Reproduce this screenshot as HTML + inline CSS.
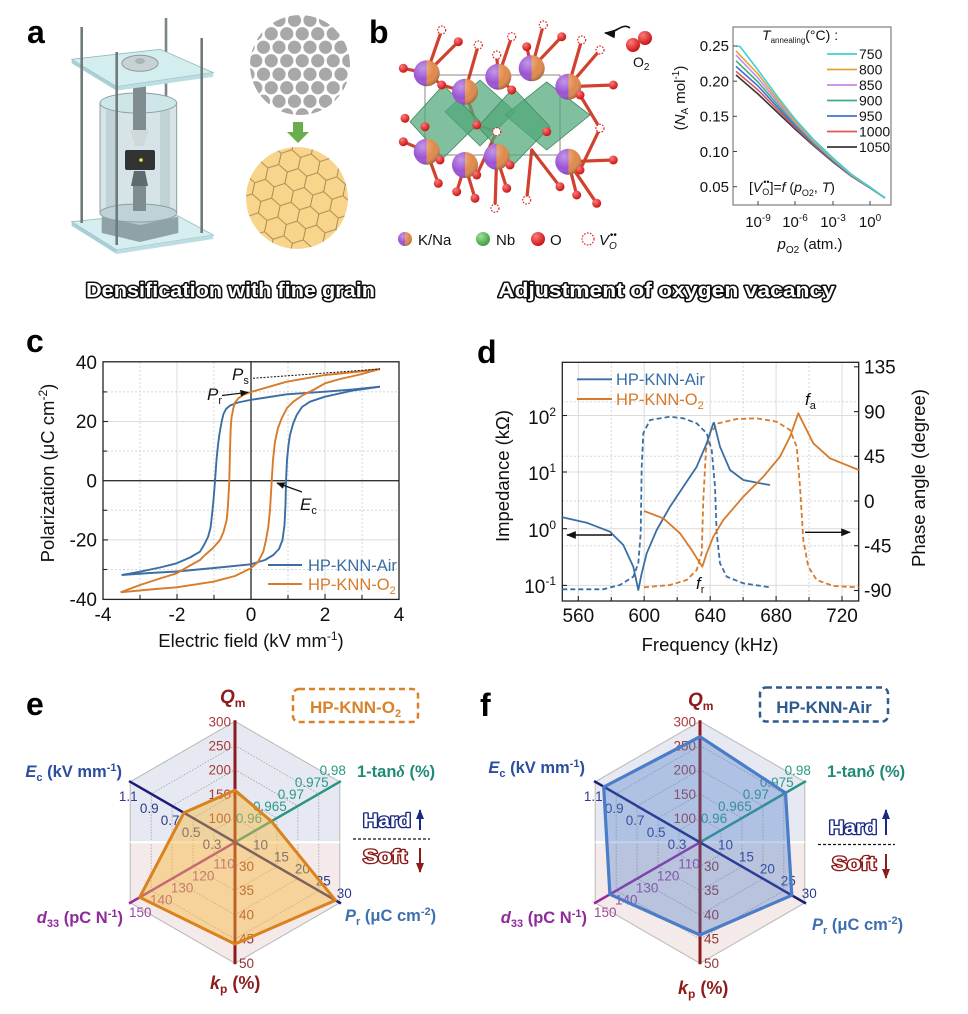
<!DOCTYPE html>
<html><head><meta charset="utf-8"><style>
html,body{margin:0;padding:0;background:#fff;}
svg{display:block;}
text{font-family:"Liberation Sans",Arial,sans-serif;}
</style></head><body>
<svg width="968" height="1014" viewBox="0 0 968 1014" xmlns="http://www.w3.org/2000/svg">
<defs>
<linearGradient id="kna" x1="0" x2="1" y1="0" y2="0"><stop offset="0.5" stop-color="#9a52d4"/><stop offset="0.5" stop-color="#e0894a"/></linearGradient>
<radialGradient id="shade" cx="0.35" cy="0.3" r="0.75"><stop offset="0" stop-color="#fff" stop-opacity="0.4"/><stop offset="0.6" stop-color="#fff" stop-opacity="0"/><stop offset="1" stop-color="#000" stop-opacity="0.3"/></radialGradient>
<radialGradient id="red" cx="0.35" cy="0.3" r="0.75"><stop offset="0" stop-color="#ff7a7a"/><stop offset="1" stop-color="#c40f0f"/></radialGradient>
<radialGradient id="grn" cx="0.35" cy="0.3" r="0.75"><stop offset="0" stop-color="#9be09b"/><stop offset="1" stop-color="#3a9a3a"/></radialGradient>
<pattern id="dots" width="15.5" height="27" patternUnits="userSpaceOnUse" x="0" y="0">
<circle cx="7.75" cy="6.75" r="6.6" fill="#a8a8a8"/><circle cx="0" cy="20.25" r="6.6" fill="#a8a8a8"/><circle cx="15.5" cy="20.25" r="6.6" fill="#a8a8a8"/>
</pattern>
<pattern id="hex" width="18" height="31.2" patternUnits="userSpaceOnUse" patternTransform="rotate(12) scale(1.1)">
<path d="M9,0 L18,5.2 M9,0 L0,5.2 M0,5.2 L0,15.6 M18,5.2 L18,15.6 M0,15.6 L9,20.8 M18,15.6 L9,20.8 M9,20.8 L9,31.2" stroke="#a88a52" stroke-width="0.9" fill="none"/>
</pattern>
<clipPath id="c1"><circle cx="300" cy="65" r="50"/></clipPath>
<clipPath id="c2"><circle cx="297" cy="198" r="51"/></clipPath>
<marker id="ah" viewBox="0 0 10 10" refX="9" refY="5" markerWidth="7" markerHeight="7" orient="auto-start-reverse"><path d="M0,1 L10,5 L0,9 z" fill="#111"/></marker>
<marker id="ahN" viewBox="0 0 10 10" refX="9" refY="5" markerWidth="5" markerHeight="6" orient="auto"><path d="M0,1 L10,5 L0,9 z" fill="#1a2a80"/></marker>
<marker id="ahR" viewBox="0 0 10 10" refX="9" refY="5" markerWidth="5" markerHeight="6" orient="auto"><path d="M0,1 L10,5 L0,9 z" fill="#8e1b1b"/></marker>
</defs>
<rect width="968" height="1014" fill="#fff"/>

<!-- Panel letters -->
<g font-weight="bold" font-size="32" fill="#000">
<text x="27" y="43">a</text><text x="369" y="43">b</text>
<text x="26" y="352">c</text><text x="477" y="363">d</text>
<text x="26" y="715">e</text><text x="480" y="716">f</text>
</g>

<!-- ===== Panel a apparatus ===== -->
<g>
<line x1="166" y1="18" x2="166" y2="215" stroke="#7a8588" stroke-width="2.6"/>
<polygon points="71.7,221.7 170,211.7 213.3,235 116.7,250" fill="#d6eef0" stroke="#94b9be" stroke-width="0.8"/>
<polygon points="71.7,221.7 116.7,250 116.7,254 71.7,225.7" fill="#a8cfd4"/>
<polygon points="116.7,250 213.3,235 213.3,239 116.7,254" fill="#bcdde1"/>
<polygon points="101.7,217 140,209 178.3,217 178.3,233 140,242 101.7,233" fill="#8ea2a7"/>
<polygon points="101.7,217 140,209 178.3,217 140,225" fill="#b8c8cb"/>
<rect x="100" y="103" width="76.7" height="110" fill="#d6e4e7" stroke="#8aa0a6" stroke-width="1"/>
<rect x="106" y="110" width="10" height="100" fill="#b9ccd0" opacity="0.7"/>
<rect x="160" y="110" width="10" height="100" fill="#b9ccd0" opacity="0.7"/>
<ellipse cx="138.3" cy="213" rx="38.3" ry="9" fill="#bfd3d7" stroke="#8aa0a6"/>
<ellipse cx="138.3" cy="103" rx="38.3" ry="10" fill="#cfe6e9" stroke="#8aa0a6"/>
<rect x="133" y="86" width="13" height="44" fill="#7f8d91"/>
<polygon points="130,130 149,130 144,146 135,146" fill="#cfd8da"/>
<rect x="125" y="150" width="30" height="20" rx="2" fill="#333"/>
<circle cx="141" cy="160" r="1.8" fill="#ee4"/>
<polygon points="134,171 145,171 148,186 131,186" fill="#5f6a6e"/>
<rect x="133" y="186" width="13" height="25" fill="#7f8d91"/>
<polygon points="71.7,59.3 160,49.3 213.3,72.7 116.7,86.7" fill="#d4eef0" stroke="#94b9be" stroke-width="0.8"/>
<polygon points="71.7,59.3 116.7,86.7 116.7,90.7 71.7,63.3" fill="#a8cfd4"/>
<polygon points="116.7,86.7 213.3,72.7 213.3,76.7 116.7,90.7" fill="#bcdde1"/>
<ellipse cx="140" cy="63.3" rx="18" ry="8" fill="#c8d1d3" stroke="#8a9a9e"/>
<ellipse cx="140" cy="61" rx="5" ry="3" fill="#aab4b7"/>
<line x1="81.7" y1="27" x2="81.7" y2="223" stroke="#6f7a7d" stroke-width="2.6"/>
<line x1="116.7" y1="52" x2="116.7" y2="245" stroke="#6f7a7d" stroke-width="2.6"/>
<line x1="201.7" y1="38" x2="201.7" y2="233" stroke="#6f7a7d" stroke-width="2.6"/>
</g>
<!-- grains -->
<g clip-path="url(#c1)"><rect x="248" y="13" width="104" height="104" fill="url(#dots)"/></g>
<rect x="293" y="122" width="10" height="11" fill="#6aad4c"/>
<polygon points="287,132 309,132 298,143" fill="#6aad4c"/>
<g clip-path="url(#c2)"><circle cx="297" cy="198" r="51" fill="#f9d48b"/><rect x="244" y="145" width="106" height="106" fill="url(#hex)"/></g>

<!-- ===== Panel b crystal ===== -->
<g stroke="#d2402e" stroke-width="3.2" stroke-linecap="round">
<line x1="426.7" y1="73.3" x2="403.3" y2="68.3"/><line x1="426.7" y1="73.3" x2="441.7" y2="30"/><line x1="426.7" y1="73.3" x2="441.7" y2="85"/><line x1="426.7" y1="73.3" x2="458.3" y2="41.7"/>
<line x1="465" y1="91.7" x2="478.3" y2="45"/><line x1="465" y1="91.7" x2="476.7" y2="125"/><line x1="465" y1="91.7" x2="441.7" y2="85"/>
<line x1="498.3" y1="76.7" x2="496.7" y2="55"/><line x1="498.3" y1="76.7" x2="511.7" y2="36.7"/><line x1="498.3" y1="76.7" x2="511.7" y2="90"/>
<line x1="531.7" y1="68.3" x2="526.7" y2="46.7"/><line x1="531.7" y1="68.3" x2="543.3" y2="25"/><line x1="531.7" y1="68.3" x2="561.7" y2="36.7"/>
<line x1="568.3" y1="86.7" x2="581.7" y2="40"/><line x1="568.3" y1="86.7" x2="600" y2="50"/><line x1="568.3" y1="86.7" x2="613.3" y2="85"/><line x1="568.3" y1="86.7" x2="580" y2="95"/>
<line x1="580" y1="95" x2="600" y2="128.3"/><line x1="600" y1="128.3" x2="580" y2="170"/>
<line x1="476.7" y1="125" x2="496.7" y2="131.7"/><line x1="496.7" y1="131.7" x2="476.7" y2="175"/>
<line x1="426.7" y1="151.7" x2="403.3" y2="141.7"/><line x1="426.7" y1="151.7" x2="438.3" y2="183.3"/><line x1="426.7" y1="151.7" x2="440" y2="160"/>
<line x1="465" y1="165" x2="456.7" y2="191.7"/><line x1="465" y1="165" x2="475" y2="198.3"/><line x1="465" y1="165" x2="476.7" y2="175"/>
<line x1="496.7" y1="156.7" x2="506.7" y2="188.3"/><line x1="496.7" y1="156.7" x2="495" y2="208.3"/><line x1="496.7" y1="156.7" x2="510" y2="165"/>
<line x1="531.7" y1="150" x2="526.7" y2="200"/><line x1="531.7" y1="150" x2="560" y2="186.7"/>
<line x1="568.3" y1="161.7" x2="576.7" y2="195"/><line x1="568.3" y1="161.7" x2="596.7" y2="203.3"/><line x1="568.3" y1="161.7" x2="613.3" y2="160"/>
</g>
<g stroke="#555" stroke-width="0.7" fill="none"><rect x="425" y="75" width="135" height="80"/></g>
<g fill="#4fa878" fill-opacity="0.72" stroke="#3b8a60" stroke-width="0.8">
<polygon points="480,80 515,111.7 480,146 445,111.7"/>
<polygon points="546.7,82 590,115 546.7,150 505,115"/>
<polygon points="443.3,85 480,121.7 443.3,158 410,121.7"/>
<polygon points="513.3,88 550,126.7 513.3,165 478,126.7"/>
</g>
<g fill="url(#kna)">
<circle cx="426.7" cy="73.3" r="13"/><circle cx="498.3" cy="76.7" r="13"/><circle cx="531.7" cy="68.3" r="13"/>
<circle cx="465" cy="91.7" r="13"/><circle cx="568.3" cy="86.7" r="13"/>
<circle cx="426.7" cy="151.7" r="13"/><circle cx="496.7" cy="156.7" r="13"/>
<circle cx="465" cy="165" r="13"/><circle cx="568.3" cy="161.7" r="13"/>
</g>
<g fill="url(#shade)">
<circle cx="426.7" cy="73.3" r="13"/><circle cx="498.3" cy="76.7" r="13"/><circle cx="531.7" cy="68.3" r="13"/>
<circle cx="465" cy="91.7" r="13"/><circle cx="568.3" cy="86.7" r="13"/>
<circle cx="426.7" cy="151.7" r="13"/><circle cx="496.7" cy="156.7" r="13"/>
<circle cx="465" cy="165" r="13"/><circle cx="568.3" cy="161.7" r="13"/>
</g>
<g fill="url(#red)">
<circle cx="458.3" cy="41.7" r="4.5"/><circle cx="526.7" cy="46.7" r="4.5"/><circle cx="561.7" cy="36.7" r="4.5"/>
<circle cx="403.3" cy="68.3" r="4.5"/><circle cx="441.7" cy="85" r="4.5"/><circle cx="511.7" cy="90" r="4.5"/>
<circle cx="580" cy="95" r="4.5"/><circle cx="613.3" cy="85" r="4.5"/><circle cx="405" cy="118.3" r="4.5"/>
<circle cx="425" cy="126.7" r="4.5"/><circle cx="476.7" cy="125" r="4.5"/><circle cx="546.7" cy="131.7" r="4.5"/>
<circle cx="403.3" cy="141.7" r="4.5"/><circle cx="440" cy="160" r="4.5"/><circle cx="476.7" cy="175" r="4.5"/>
<circle cx="510" cy="165" r="4.5"/><circle cx="580" cy="170" r="4.5"/><circle cx="613.3" cy="160" r="4.5"/>
<circle cx="438.3" cy="183.3" r="4.5"/><circle cx="456.7" cy="191.7" r="4.5"/><circle cx="475" cy="198.3" r="4.5"/>
<circle cx="506.7" cy="188.3" r="4.5"/><circle cx="560" cy="186.7" r="4.5"/><circle cx="576.7" cy="195" r="4.5"/>
<circle cx="596.7" cy="203.3" r="4.5"/>
</g>
<g fill="#fff" stroke="#d22" stroke-width="1.2" stroke-dasharray="1.6,1.4">
<circle cx="441.7" cy="30" r="4"/><circle cx="478.3" cy="45" r="4"/><circle cx="496.7" cy="55" r="4"/>
<circle cx="511.7" cy="36.7" r="4"/><circle cx="543.3" cy="25" r="4"/><circle cx="581.7" cy="40" r="4"/>
<circle cx="600" cy="50" r="4"/><circle cx="600" cy="128.3" r="4"/><circle cx="496.7" cy="131.7" r="4"/>
<circle cx="526.7" cy="200" r="4"/><circle cx="495" cy="208.3" r="4"/>
</g>
<path d="M630,28 C622,22 616,34 605,33" stroke="#111" stroke-width="1.6" fill="none" marker-end="url(#ah)"/>
<circle cx="633" cy="45" r="7" fill="url(#red)"/><circle cx="645" cy="38" r="7" fill="url(#red)"/>
<text x="633" y="67" font-size="14" fill="#111">O<tspan font-size="10" dy="3">2</tspan></text>
<!-- legend b -->
<circle cx="405" cy="239" r="7" fill="url(#kna)"/><circle cx="405" cy="239" r="7" fill="url(#shade)"/>
<text x="418" y="245" font-size="15" fill="#111">K/Na</text>
<circle cx="483" cy="239" r="7" fill="url(#grn)"/>
<text x="496" y="245" font-size="15" fill="#111">Nb</text>
<circle cx="538" cy="239" r="7" fill="url(#red)"/>
<text x="550" y="245" font-size="15" fill="#111">O</text>
<circle cx="588" cy="239" r="6" fill="#fff" stroke="#d22" stroke-width="1.2" stroke-dasharray="1.6,1.4"/>
<text x="599" y="245" font-size="15" font-style="italic" font-family="Liberation Serif,serif" fill="#111">V<tspan font-size="10" dy="4">O</tspan><tspan font-size="10" dy="-11" dx="-7">••</tspan></text>

<!-- ===== Panel b plot ===== -->
<g>
<g font-size="15" fill="#111" text-anchor="end">
<text x="729" y="51">0.25</text><text x="729" y="86.5">0.20</text><text x="729" y="121.5">0.15</text><text x="729" y="157">0.10</text><text x="729" y="192">0.05</text>
</g>
<g font-size="15" fill="#111" text-anchor="middle">
<text x="758" y="227">10<tspan font-size="10" dy="-6">-9</tspan></text>
<text x="795" y="227">10<tspan font-size="10" dy="-6">-6</tspan></text>
<text x="833" y="227">10<tspan font-size="10" dy="-6">-3</tspan></text>
<text x="870" y="227">10<tspan font-size="10" dy="-6">0</tspan></text>
</g>
<text x="810" y="249" font-size="15" text-anchor="middle" fill="#111"><tspan font-style="italic">p</tspan><tspan font-size="10" dy="4">O2</tspan><tspan dy="-4"> (atm.)</tspan></text>
<text transform="translate(685,98) rotate(-90)" font-size="15" text-anchor="middle" fill="#111">(<tspan font-style="italic">N</tspan><tspan font-size="10" dy="3">A</tspan><tspan dy="-3"> mol</tspan><tspan font-size="10" dy="-6">-1</tspan><tspan dy="6">)</tspan></text>
<g fill="none" stroke-width="1.6" stroke-linejoin="round">
<polyline stroke="#3a3a3a" points="736,75 758,94 777,112 795,129 814,146 833,162 851,176 870,188 885,198"/>
<polyline stroke="#e05555" points="736,71.3 758,90 777,109.3 795,127.3 814,145 833,161.3 851,175.7 870,187.8 885,198"/>
<polyline stroke="#3f72d4" points="736,66.4 758,86 777,106.7 795,125.7 814,144 833,160.7 851,175.3 870,187.7 885,198"/>
<polyline stroke="#3fae7e" points="736,60.8 758,82 777,104 795,124 814,143 833,160 851,175 870,187.5 885,198"/>
<polyline stroke="#c68ae6" points="736,55.1 758,78 777,101.3 795,122.3 814,142 833,159.3 851,174.7 870,187.3 885,198"/>
<polyline stroke="#e3a33a" points="736,50.9 758,74 777,98.7 795,120.7 814,141 833,158.7 851,174.3 870,187.2 885,198"/>
<polyline stroke="#3fd0d4" points="736,46 740,46.5 758,70 777,96 795,119 814,140 833,158 851,174 870,187 885,198"/>
</g>
<rect x="733" y="27" width="158" height="178" fill="none" stroke="#666" stroke-width="1"/>
<g stroke="#444" stroke-width="1">
<line x1="758" y1="205" x2="758" y2="201"/><line x1="795" y1="205" x2="795" y2="201"/><line x1="833" y1="205" x2="833" y2="201"/><line x1="870" y1="205" x2="870" y2="201"/>
<line x1="733" y1="46" x2="737" y2="46"/><line x1="733" y1="81.2" x2="737" y2="81.2"/><line x1="733" y1="116.3" x2="737" y2="116.3"/><line x1="733" y1="151.5" x2="737" y2="151.5"/><line x1="733" y1="186.7" x2="737" y2="186.7"/>
</g>
<text x="762" y="40" font-size="14" fill="#111"><tspan font-style="italic">T</tspan><tspan font-size="8" dy="3">annealing</tspan><tspan dy="-3">(°C) :</tspan></text>
<g stroke-width="1.8">
<line x1="827" y1="54" x2="857" y2="54" stroke="#3fd0d4"/><line x1="827" y1="69.5" x2="857" y2="69.5" stroke="#e3a33a"/>
<line x1="827" y1="85" x2="857" y2="85" stroke="#c68ae6"/><line x1="827" y1="100.5" x2="857" y2="100.5" stroke="#3fae7e"/>
<line x1="827" y1="116" x2="857" y2="116" stroke="#3f72d4"/><line x1="827" y1="131.5" x2="857" y2="131.5" stroke="#e05555"/>
<line x1="827" y1="147" x2="857" y2="147" stroke="#3a3a3a"/>
</g>
<g font-size="14" fill="#111">
<text x="859" y="59">750</text><text x="859" y="74.5">800</text><text x="859" y="90">850</text><text x="859" y="105.5">900</text><text x="859" y="121">950</text><text x="859" y="136.5">1000</text><text x="859" y="152">1050</text>
</g>
<text x="749" y="192" font-size="14" fill="#111">[<tspan font-style="italic">V</tspan><tspan font-size="9" dy="3">O</tspan><tspan font-size="9" dy="-10" dx="-6">••</tspan><tspan dy="7">]=</tspan><tspan font-style="italic">f</tspan> (<tspan font-style="italic">p</tspan><tspan font-size="9" dy="4">O2</tspan><tspan dy="-4">, </tspan><tspan font-style="italic">T</tspan>)</text>
</g>

<!-- captions -->
<g font-family="DejaVu Sans,Liberation Sans,sans-serif" font-weight="bold" font-size="20" fill="#fff" stroke="#111" stroke-width="3" paint-order="stroke" stroke-linejoin="round">
<text x="86" y="297" textLength="289" lengthAdjust="spacingAndGlyphs">Densification with fine grain</text>
<text x="498" y="297" textLength="337" lengthAdjust="spacingAndGlyphs">Adjustment of oxygen vacancy</text>
</g>

<!-- ===== Panel c ===== -->
<g>
<g stroke="#dcdcdc" stroke-width="1">
<line x1="177" y1="362" x2="177" y2="599"/><line x1="325" y1="362" x2="325" y2="599"/>
<line x1="103" y1="421.5" x2="399" y2="421.5"/><line x1="103" y1="539.9" x2="399" y2="539.9"/>
</g>
<g stroke="#d4d4d4" stroke-width="1" stroke-dasharray="2,2">
<line x1="140" y1="362" x2="140" y2="599"/><line x1="214" y1="362" x2="214" y2="599"/><line x1="288" y1="362" x2="288" y2="599"/><line x1="362" y1="362" x2="362" y2="599"/>
<line x1="103" y1="391.9" x2="399" y2="391.9"/><line x1="103" y1="451.1" x2="399" y2="451.1"/><line x1="103" y1="510.3" x2="399" y2="510.3"/><line x1="103" y1="569.5" x2="399" y2="569.5"/>
</g>
<line x1="251" y1="362" x2="251" y2="599" stroke="#111" stroke-width="1.2"/>
<line x1="103" y1="480.7" x2="399" y2="480.7" stroke="#333" stroke-width="1.3"/>
<rect x="103" y="361.8" width="296" height="237.6" fill="none" stroke="#222" stroke-width="1.3"/>
<g stroke="#222" stroke-width="1.1">
<line x1="140" y1="599" x2="140" y2="595"/><line x1="177" y1="599" x2="177" y2="594"/><line x1="214" y1="599" x2="214" y2="595"/><line x1="251" y1="599" x2="251" y2="594"/><line x1="288" y1="599" x2="288" y2="595"/><line x1="325" y1="599" x2="325" y2="594"/><line x1="362" y1="599" x2="362" y2="595"/>
<line x1="103" y1="391.9" x2="107" y2="391.9"/><line x1="103" y1="421.5" x2="108" y2="421.5"/><line x1="103" y1="451.1" x2="107" y2="451.1"/><line x1="103" y1="510.3" x2="107" y2="510.3"/><line x1="103" y1="539.9" x2="108" y2="539.9"/><line x1="103" y1="569.5" x2="107" y2="569.5"/>
</g>
<g font-size="19" fill="#111" text-anchor="end">
<text x="97" y="369">40</text><text x="97" y="428">20</text><text x="97" y="487.5">0</text><text x="97" y="546.5">-20</text><text x="97" y="606">-40</text>
</g>
<g font-size="19" fill="#111" text-anchor="middle">
<text x="103" y="621">-4</text><text x="177" y="621">-2</text><text x="251" y="621">0</text><text x="325" y="621">2</text><text x="399" y="621">4</text>
</g>
<text x="251" y="647" font-size="18.5" text-anchor="middle" fill="#111">Electric field (kV mm<tspan font-size="12" dy="-7">-1</tspan><tspan dy="7">)</tspan></text>
<text transform="translate(54,473) rotate(-90)" font-size="18.5" text-anchor="middle" fill="#111">Polarization (μC cm<tspan font-size="12" dy="-7">-2</tspan><tspan dy="7">)</tspan></text>
<g fill="none" stroke-width="1.9" stroke-linejoin="round">
<polyline stroke="#3a6ea5" points="380,386.7 353,389.5 325,391.7 286.7,394.3 250,400 238,402.5 230,405.5 226,409 223.5,414 222,420 220.5,428 219.3,435 218,445 216.5,460 215,481 213.5,500 212,515 210.5,528 208,537 204,545 200,551.7 190,557.5 176.7,563.3 160,567.5 140,571.7 121.7,575"/>
<polyline stroke="#3a6ea5" points="121.7,575 150,573 176.7,571.5 214,568 250.7,564.3 265,560 273.3,555 279,549 282.5,540 284.5,525 285.5,505 286,481 287,460 288.5,445 290,435 293,424 296.7,415 302,407 310,401.7 325,396.7 353,390.5 380,386.7"/>
<polyline stroke="#d77a2a" points="380,369 360,371.5 325,375 286.7,381.7 250,392.3 243,395 238.3,398.3 235,402.5 233.3,408.3 231.5,418 230.7,428.3 230,450 229.3,481 228,505 226.7,520 223.5,532 220,540 213,548 205,555 200,560 190,565.5 176.7,573.3 160,578.5 140,585 120.7,592.3"/>
<polyline stroke="#d77a2a" points="120.7,592.3 150,589.5 176.7,587.3 213.3,581.7 235,576 250.7,568.3 258,562 263.3,551.7 266,540 268.3,526.7 270,510 271.7,481 273,460 275,441.7 278,428 281.7,418.3 287,408 293.3,401.7 303,395 313.3,390 325,383.3 340,379 360,374.5 380,369"/>
</g>
<line x1="253" y1="378.3" x2="380" y2="369" stroke="#111" stroke-width="1" stroke-dasharray="2,1.5"/>
<text x="232" y="380" font-size="17" fill="#111"><tspan font-style="italic">P</tspan><tspan font-size="11" dy="4">s</tspan></text>
<text x="207" y="400" font-size="17" fill="#111"><tspan font-style="italic">P</tspan><tspan font-size="11" dy="4">r</tspan></text>
<line x1="222" y1="395.5" x2="248" y2="392.3" stroke="#111" stroke-width="1.2" marker-end="url(#ah)"/>
<text x="300" y="510" font-size="17" fill="#111"><tspan font-style="italic">E</tspan><tspan font-size="11" dy="4">c</tspan></text>
<line x1="302" y1="492" x2="277" y2="483" stroke="#111" stroke-width="1.2" marker-end="url(#ah)"/>
<line x1="268" y1="565" x2="302" y2="565" stroke="#3a6ea5" stroke-width="1.9"/>
<text x="308" y="571" font-size="16.5" fill="#3a6ea5">HP-KNN-Air</text>
<line x1="268" y1="584" x2="302" y2="584" stroke="#d77a2a" stroke-width="1.9"/>
<text x="308" y="590" font-size="16.5" fill="#d77a2a">HP-KNN-O<tspan font-size="11" dy="4">2</tspan></text>
</g>

<!-- ===== Panel d ===== -->
<g>
<g stroke="#dcdcdc" stroke-width="1">
<line x1="578.3" y1="362" x2="578.3" y2="601"/><line x1="644.2" y1="362" x2="644.2" y2="601"/><line x1="710.2" y1="362" x2="710.2" y2="601"/><line x1="776.1" y1="362" x2="776.1" y2="601"/><line x1="842" y1="362" x2="842" y2="601"/>
<line x1="562" y1="415.5" x2="859" y2="415.5"/><line x1="562" y1="472" x2="859" y2="472"/><line x1="562" y1="528.7" x2="859" y2="528.7"/><line x1="562" y1="585.4" x2="859" y2="585.4"/>
</g>
<g stroke="#d6d6d6" stroke-width="1" stroke-dasharray="2,2">
<line x1="611.3" y1="362" x2="611.3" y2="601"/><line x1="677.2" y1="362" x2="677.2" y2="601"/><line x1="743.1" y1="362" x2="743.1" y2="601"/><line x1="809" y1="362" x2="809" y2="601"/>
<line x1="562" y1="401.7" x2="859" y2="401.7"/><line x1="562" y1="456.3" x2="859" y2="456.3"/><line x1="562" y1="501" x2="859" y2="501"/><line x1="562" y1="545.7" x2="859" y2="545.7"/>
</g>
<rect x="562.3" y="362.3" width="296.4" height="238.7" fill="none" stroke="#222" stroke-width="1.3"/>
<g stroke="#222" stroke-width="1.1">
<line x1="578.3" y1="601" x2="578.3" y2="596"/><line x1="611.3" y1="601" x2="611.3" y2="597"/><line x1="644.2" y1="601" x2="644.2" y2="596"/><line x1="677.2" y1="601" x2="677.2" y2="597"/><line x1="710.2" y1="601" x2="710.2" y2="596"/><line x1="743.1" y1="601" x2="743.1" y2="597"/><line x1="776.1" y1="601" x2="776.1" y2="596"/><line x1="809" y1="601" x2="809" y2="597"/><line x1="842" y1="601" x2="842" y2="596"/>
<line x1="562" y1="415.5" x2="567" y2="415.5"/><line x1="562" y1="472" x2="567" y2="472"/><line x1="562" y1="528.7" x2="567" y2="528.7"/><line x1="562" y1="585.4" x2="567" y2="585.4"/>
<line x1="859" y1="366.8" x2="854" y2="366.8"/><line x1="859" y1="411.6" x2="854" y2="411.6"/><line x1="859" y1="456.3" x2="854" y2="456.3"/><line x1="859" y1="501" x2="854" y2="501"/><line x1="859" y1="545.7" x2="854" y2="545.7"/><line x1="859" y1="590.5" x2="854" y2="590.5"/>
</g>
<g font-size="19" fill="#111" text-anchor="end">
<text x="556" y="424">10<tspan font-size="12" dy="-8">2</tspan></text>
<text x="556" y="480">10<tspan font-size="12" dy="-8">1</tspan></text>
<text x="556" y="537">10<tspan font-size="12" dy="-8">0</tspan></text>
<text x="556" y="593">10<tspan font-size="12" dy="-8">-1</tspan></text>
</g>
<g font-size="19" fill="#111">
<text x="864" y="373.5">135</text><text x="864" y="418.5">90</text><text x="864" y="463">45</text><text x="864" y="508">0</text><text x="864" y="552.5">-45</text><text x="864" y="597">-90</text>
</g>
<g font-size="19" fill="#111" text-anchor="middle">
<text x="578.3" y="622">560</text><text x="644.2" y="622">600</text><text x="710.2" y="622">640</text><text x="776.1" y="622">680</text><text x="842" y="622">720</text>
</g>
<text x="710" y="651" font-size="18.5" text-anchor="middle" fill="#111">Frequency (kHz)</text>
<text transform="translate(509,476) rotate(-90)" font-size="18.5" text-anchor="middle" fill="#111">Impedance (kΩ)</text>
<text transform="translate(925,478) rotate(-90)" font-size="18.5" text-anchor="middle" fill="#111">Phase angle (degree)</text>
<g fill="none" stroke-width="1.8" stroke-linejoin="round">
<polyline stroke="#3a6ea5" stroke-dasharray="5,3" points="562.3,589.3 603.3,589.3 620,585 633.3,576.7 638.3,563.3 640.7,533.3 641.7,466.7 643.3,433.3 650,420 670,416.7 683.3,418.3 696.7,423.3 706.7,433.3 711.7,450 715,486.7 716.7,533.3 720,563.3 726.7,576.7 743.3,583.3 770,587.3"/>
<polyline stroke="#d77a2a" stroke-dasharray="5,3" points="644,587.3 670,585 686.7,580 696.7,570 701.7,553.3 703.3,500 706,450 710,433.3 718.3,423.3 736.7,419 756.7,418.3 776.7,421.7 790,430 796.7,446.7 800,486.7 803.3,540 808.3,566.7 816.7,580 833.3,586 858.7,587.3"/>
<polyline stroke="#3a6ea5" points="562.3,517.3 586.7,522.7 610,531.7 623.3,545 633.3,566.7 638.3,590 641.7,573.3 646.7,553.3 656.7,530 670,506.7 683.3,486.7 696.7,466.7 706.7,443.3 713.3,423.3 714,422.7 720,446.7 730,470 743.3,480 760,483.3 770,485"/>
<polyline stroke="#d77a2a" points="644,511 663.3,518.3 680,533.3 691.7,550 700,563.3 702.3,566.7 706.7,553.3 713.3,536.7 723.3,520 743.3,496.7 763.3,476.7 780,456.7 790,436.7 798.3,413.3 803.3,423.3 813.3,443.3 830,458.3 858.7,470"/>
</g>
<line x1="612" y1="535" x2="567" y2="535" stroke="#111" stroke-width="1.4" marker-end="url(#ah)"/>
<line x1="805" y1="532.3" x2="850" y2="532.3" stroke="#111" stroke-width="1.4" marker-end="url(#ah)"/>
<text x="805" y="405" font-size="17" fill="#111"><tspan font-style="italic">f</tspan><tspan font-size="11" dy="4">a</tspan></text>
<text x="696" y="589" font-size="17" fill="#111"><tspan font-style="italic">f</tspan><tspan font-size="11" dy="4">r</tspan></text>
<line x1="577" y1="379.3" x2="612" y2="379.3" stroke="#3a6ea5" stroke-width="1.9"/>
<text x="616" y="385" font-size="16.5" fill="#3a6ea5">HP-KNN-Air</text>
<line x1="577" y1="399" x2="612" y2="399" stroke="#d77a2a" stroke-width="1.9"/>
<text x="616" y="405" font-size="16.5" fill="#d77a2a">HP-KNN-O<tspan font-size="11" dy="4">2</tspan></text>
</g>

<!-- ===== Radar e ===== -->
<g transform="translate(235,842.3)">
<polygon points="-104.8,0 -104.8,-60.5 0,-121 104.8,-60.5 104.8,0" fill="#e6e9f1"/>
<polygon points="-104.8,0 -104.8,60.5 0,121 104.8,60.5 104.8,0" fill="#f4eaea"/>
<polygon points="0,-121 104.8,-60.5 104.8,60.5 0,121 -104.8,60.5 -104.8,-60.5" fill="none" stroke="#b8b8b8" stroke-width="1"/>
<g fill="none" stroke="#a8a8a8" stroke-width="0.9" stroke-dasharray="1.5,1.5">
<polygon points="0,-96.8 83.8,-48.4 83.8,48.4 0,96.8 -83.8,48.4 -83.8,-48.4"/>
<polygon points="0,-72.6 62.9,-36.3 62.9,36.3 0,72.6 -62.9,36.3 -62.9,-36.3"/>
<polygon points="0,-48.4 41.9,-24.2 41.9,24.2 0,48.4 -41.9,24.2 -41.9,-24.2"/>
<polygon points="0,-24.2 21,-12.1 21,12.1 0,24.2 -21,12.1 -21,-12.1"/>
</g>
<line x1="-104.8" y1="0" x2="104.8" y2="0" stroke="#fff" stroke-width="2"/>
<line x1="0" y1="0" x2="106" y2="-61.2" stroke="#2a9585" stroke-width="2.5"/>
<line x1="0" y1="0" x2="-106" y2="61.2" stroke="#9a2a9e" stroke-width="2.5"/>
<line x1="-106" y1="-61.2" x2="106" y2="61.2" stroke="#1c1c78" stroke-width="2.5"/>
<line x1="0" y1="-122" x2="0" y2="122" stroke="#8e1b1b" stroke-width="3"/>
<g font-size="13.5">
<g fill="#a83a3a" text-anchor="end"><text x="-4" y="-19.2">100</text><text x="-4" y="-43.4">150</text><text x="-4" y="-67.6">200</text><text x="-4" y="-91.8">250</text><text x="-4" y="-116">300</text></g>
<g fill="#933535"><text x="4" y="28.7">30</text><text x="4" y="52.9">35</text><text x="4" y="77.1">40</text><text x="4" y="101.3">45</text><text x="4" y="125.5">50</text></g>
<g fill="#283c8c"><text x="18" y="7.1">10</text><text x="38.9" y="19.2">15</text><text x="59.9" y="31.3">20</text><text x="80.8" y="43.4">25</text><text x="101.8" y="55.5">30</text></g>
<g fill="#2c3a90" text-anchor="middle"><text x="-23" y="6.9">0.3</text><text x="-43.9" y="-5.2">0.5</text><text x="-64.9" y="-17.3">0.7</text><text x="-85.8" y="-29.4">0.9</text><text x="-106.8" y="-41.5">1.1</text></g>
<g fill="#2a9a88" text-anchor="middle"><text x="14" y="-19.1">0.96</text><text x="34.9" y="-31.2">0.965</text><text x="55.9" y="-43.3">0.97</text><text x="76.8" y="-55.4">0.975</text><text x="97.8" y="-67.5">0.98</text></g>
<g fill="#a04a9a" text-anchor="middle"><text x="-11" y="26.1">110</text><text x="-31.9" y="38.2">120</text><text x="-52.9" y="50.3">130</text><text x="-73.8" y="62.4">140</text><text x="-94.8" y="74.5">150</text></g>
</g>
<polygon points="0,-52 36.4,-21 100.5,58 0,101.7 -95.3,55 -51.1,-29.5" fill="#f8b93c" fill-opacity="0.45" stroke="#d9821e" stroke-width="3" stroke-linejoin="round"/>
</g>
<g font-weight="bold" font-size="16.5">
<text x="220" y="703" fill="#8e1b1b" font-size="19"><tspan font-style="italic">Q</tspan><tspan font-size="12" dy="4">m</tspan></text>
<text x="210" y="989" fill="#8e1b1b" font-size="18"><tspan font-style="italic">k</tspan><tspan font-size="12" dy="4">p</tspan><tspan dy="-4"> (%)</tspan></text>
<text x="122" y="777" fill="#2b4f9e" text-anchor="end"><tspan font-style="italic">E</tspan><tspan font-size="11" dy="4">c</tspan><tspan dy="-4"> (kV mm</tspan><tspan font-size="11" dy="-6">-1</tspan><tspan dy="6">)</tspan></text>
<text x="357" y="777" fill="#1f8a78">1-tan<tspan font-style="italic" font-family="Liberation Serif,serif">δ</tspan> (%)</text>
<text x="123" y="923" fill="#8e2a9a" text-anchor="end"><tspan font-style="italic">d</tspan><tspan font-size="11" dy="4">33</tspan><tspan dy="-4"> (pC N</tspan><tspan font-size="11" dy="-6">-1</tspan><tspan dy="6">)</tspan></text>
<text x="345" y="921" fill="#3f6fb0"><tspan font-style="italic">P</tspan><tspan font-size="11" dy="4">r</tspan><tspan dy="-4"> (μC cm</tspan><tspan font-size="11" dy="-6">-2</tspan><tspan dy="6">)</tspan></text>
</g>
<rect x="293" y="689" width="125" height="33" rx="6" fill="none" stroke="#d9822b" stroke-width="2.5" stroke-dasharray="6,4"/>
<text x="355.5" y="713" font-size="17" font-weight="bold" fill="#d9822b" text-anchor="middle">HP-KNN-O<tspan font-size="11" dy="4">2</tspan></text>
<g font-family="DejaVu Sans,Liberation Sans,sans-serif" font-weight="bold" font-size="19" fill="#fff" stroke-width="2.6" paint-order="stroke" stroke-linejoin="round">
<text x="363" y="827" stroke="#1a2a80" textLength="48" lengthAdjust="spacingAndGlyphs">Hard</text>
<text x="363" y="863" stroke="#8e1b1b" textLength="44" lengthAdjust="spacingAndGlyphs">Soft</text>
</g>
<line x1="353" y1="839" x2="430" y2="839" stroke="#111" stroke-width="1.3" stroke-dasharray="3,2"/>
<line x1="420" y1="830" x2="420" y2="810" stroke="#1a2a80" stroke-width="2" marker-end="url(#ahN)"/>
<line x1="420" y1="848" x2="420" y2="872" stroke="#8e1b1b" stroke-width="2" marker-end="url(#ahR)"/>

<!-- ===== Radar f ===== -->
<g transform="translate(700,842.3)">
<polygon points="-104.8,0 -104.8,-60.5 0,-121 104.8,-60.5 104.8,0" fill="#e6e9f1"/>
<polygon points="-104.8,0 -104.8,60.5 0,121 104.8,60.5 104.8,0" fill="#f4eaea"/>
<polygon points="0,-121 104.8,-60.5 104.8,60.5 0,121 -104.8,60.5 -104.8,-60.5" fill="none" stroke="#b8b8b8" stroke-width="1"/>
<g fill="none" stroke="#a8a8a8" stroke-width="0.9" stroke-dasharray="1.5,1.5">
<polygon points="0,-96.8 83.8,-48.4 83.8,48.4 0,96.8 -83.8,48.4 -83.8,-48.4"/>
<polygon points="0,-72.6 62.9,-36.3 62.9,36.3 0,72.6 -62.9,36.3 -62.9,-36.3"/>
<polygon points="0,-48.4 41.9,-24.2 41.9,24.2 0,48.4 -41.9,24.2 -41.9,-24.2"/>
<polygon points="0,-24.2 21,-12.1 21,12.1 0,24.2 -21,12.1 -21,-12.1"/>
</g>
<line x1="-104.8" y1="0" x2="104.8" y2="0" stroke="#fff" stroke-width="2"/>
<line x1="0" y1="0" x2="106" y2="-61.2" stroke="#2a9585" stroke-width="2.5"/>
<line x1="0" y1="0" x2="-106" y2="61.2" stroke="#9a2a9e" stroke-width="2.5"/>
<line x1="-106" y1="-61.2" x2="106" y2="61.2" stroke="#1c1c78" stroke-width="2.5"/>
<line x1="0" y1="-122" x2="0" y2="122" stroke="#8e1b1b" stroke-width="3"/>
<g font-size="13.5">
<g fill="#a83a3a" text-anchor="end"><text x="-4" y="-19.2">100</text><text x="-4" y="-43.4">150</text><text x="-4" y="-67.6">200</text><text x="-4" y="-91.8">250</text><text x="-4" y="-116">300</text></g>
<g fill="#933535"><text x="4" y="28.7">30</text><text x="4" y="52.9">35</text><text x="4" y="77.1">40</text><text x="4" y="101.3">45</text><text x="4" y="125.5">50</text></g>
<g fill="#283c8c"><text x="18" y="7.1">10</text><text x="38.9" y="19.2">15</text><text x="59.9" y="31.3">20</text><text x="80.8" y="43.4">25</text><text x="101.8" y="55.5">30</text></g>
<g fill="#2c3a90" text-anchor="middle"><text x="-23" y="6.9">0.3</text><text x="-43.9" y="-5.2">0.5</text><text x="-64.9" y="-17.3">0.7</text><text x="-85.8" y="-29.4">0.9</text><text x="-106.8" y="-41.5">1.1</text></g>
<g fill="#2a9a88" text-anchor="middle"><text x="14" y="-19.1">0.96</text><text x="34.9" y="-31.2">0.965</text><text x="55.9" y="-43.3">0.97</text><text x="76.8" y="-55.4">0.975</text><text x="97.8" y="-67.5">0.98</text></g>
<g fill="#a04a9a" text-anchor="middle"><text x="-11" y="26.1">110</text><text x="-31.9" y="38.2">120</text><text x="-52.9" y="50.3">130</text><text x="-73.8" y="62.4">140</text><text x="-94.8" y="74.5">150</text></g>
</g>
<polygon points="0,-105.6 85.5,-49.4 91.8,53 0,92.7 -90.1,52 -96.3,-55.3" fill="#4a7bc8" fill-opacity="0.35" stroke="#4a7cc8" stroke-width="3.2" stroke-linejoin="round"/>
</g>
<g font-weight="bold" font-size="16.5">
<text x="688" y="706" fill="#8e1b1b" font-size="19"><tspan font-style="italic">Q</tspan><tspan font-size="12" dy="4">m</tspan></text>
<text x="678" y="994" fill="#8e1b1b" font-size="18"><tspan font-style="italic">k</tspan><tspan font-size="12" dy="4">p</tspan><tspan dy="-4"> (%)</tspan></text>
<text x="585" y="773" fill="#2b4f9e" text-anchor="end"><tspan font-style="italic">E</tspan><tspan font-size="11" dy="4">c</tspan><tspan dy="-4"> (kV mm</tspan><tspan font-size="11" dy="-6">-1</tspan><tspan dy="6">)</tspan></text>
<text x="827" y="777" fill="#1f8a78">1-tan<tspan font-style="italic" font-family="Liberation Serif,serif">δ</tspan> (%)</text>
<text x="587" y="923" fill="#8e2a9a" text-anchor="end"><tspan font-style="italic">d</tspan><tspan font-size="11" dy="4">33</tspan><tspan dy="-4"> (pC N</tspan><tspan font-size="11" dy="-6">-1</tspan><tspan dy="6">)</tspan></text>
<text x="812" y="930" fill="#3f6fb0"><tspan font-style="italic">P</tspan><tspan font-size="11" dy="4">r</tspan><tspan dy="-4"> (μC cm</tspan><tspan font-size="11" dy="-6">-2</tspan><tspan dy="6">)</tspan></text>
</g>
<rect x="760" y="687.5" width="128" height="34" rx="6" fill="none" stroke="#2e5a8e" stroke-width="2.5" stroke-dasharray="6,4"/>
<text x="824" y="713" font-size="17" font-weight="bold" fill="#2e5a8e" text-anchor="middle">HP-KNN-Air</text>
<g font-family="DejaVu Sans,Liberation Sans,sans-serif" font-weight="bold" font-size="19" fill="#fff" stroke-width="2.6" paint-order="stroke" stroke-linejoin="round">
<text x="829" y="834" stroke="#1a2a80" textLength="48" lengthAdjust="spacingAndGlyphs">Hard</text>
<text x="832" y="870" stroke="#8e1b1b" textLength="44" lengthAdjust="spacingAndGlyphs">Soft</text>
</g>
<line x1="818" y1="844.5" x2="895" y2="844.5" stroke="#111" stroke-width="1.3" stroke-dasharray="3,2"/>
<line x1="886" y1="835" x2="886" y2="810" stroke="#1a2a80" stroke-width="2" marker-end="url(#ahN)"/>
<line x1="886" y1="854" x2="886" y2="878" stroke="#8e1b1b" stroke-width="2" marker-end="url(#ahR)"/>
</svg>
</body></html>
